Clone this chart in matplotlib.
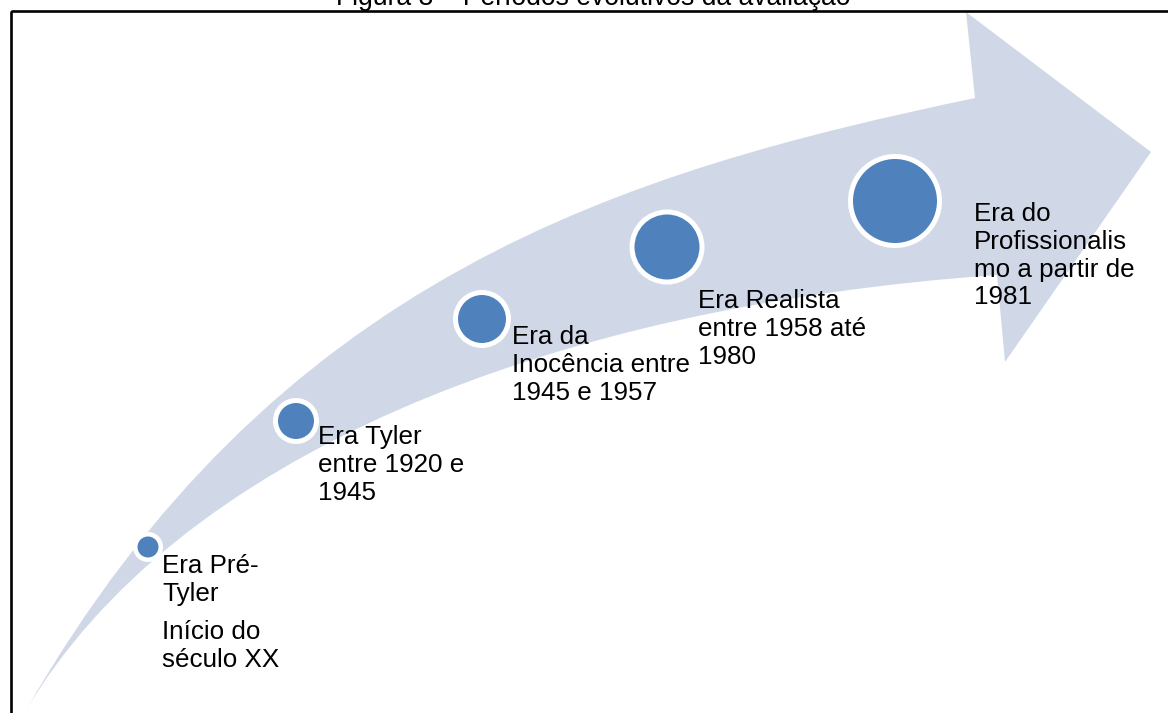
import matplotlib.pyplot as plt
from matplotlib.patches import Circle, PathPatch, Rectangle
from matplotlib.path import Path

titulo = "Figura 3 – Períodos evolutivos da avaliação"

eras = [
    "Era Pré-\nTyler",
    "Era Tyler\nentre 1920 e\n1945",
    "Era da\nInocência entre\n1945 e 1957",
    "Era Realista\nentre 1958 até\n1980",
    "Era do\nProfissionalis\nmo a partir de\n1981",
]
nota_inicio = "Início do\nséculo XX"

# layout em pixels (origem no canto superior esquerdo)
centros_x = [148, 296, 482, 667, 895]
centros_y = [547, 421, 319, 247, 201]
raios = [10.5, 18, 24, 32.5, 42]
texto_x = [162, 318, 512, 698, 974]
texto_y = [554, 425, 325, 289, 202]

COR_SETA = "#D0D8E8"
COR_CIRCULO = "#4F81BD"
FONTE = "Liberation Sans"
TAM = 18.7


def seta_curva():
    # borda superior, cabeca e borda inferior (curvas de Bezier)
    verts = [
        (25, 712),
        (275, 274.5), (625, 171.5), (975, 98),
        (966, 12),
        (1151, 152),
        (1005, 362),
        (997, 275),
        (547, 306.5), (175, 457), (25, 712),
        (25, 712),
    ]
    codes = [Path.MOVETO,
             Path.CURVE4, Path.CURVE4, Path.CURVE4,
             Path.LINETO, Path.LINETO, Path.LINETO, Path.LINETO,
             Path.CURVE4, Path.CURVE4, Path.CURVE4,
             Path.CLOSEPOLY]
    return PathPatch(Path(verts, codes), facecolor=COR_SETA, edgecolor="none", zorder=1)


def main():
    fig = plt.figure(figsize=(11.68, 7.13), dpi=100)
    ax = fig.add_axes([0, 0, 1, 1])
    ax.set_xlim(0, 1168)
    ax.set_ylim(713, 0)
    ax.axis("off")

    ax.add_patch(seta_curva())

    for cx, cy, r in zip(centros_x, centros_y, raios):
        anel = 5 if r > 15 else 4.5
        ax.add_patch(Circle((cx, cy), r + anel / 2, facecolor=COR_CIRCULO,
                            edgecolor="white", linewidth=anel * 0.72, zorder=2))

    for tx, ty, txt in zip(texto_x, texto_y, eras):
        ax.text(tx, ty, txt, family=FONTE, fontsize=TAM, ha="left", va="top",
                linespacing=1.2, zorder=3)

    ax.text(texto_x[0], 620, nota_inicio, family=FONTE, fontsize=TAM,
            ha="left", va="top", linespacing=1.2, zorder=3)

    # moldura (continua para fora da imagem)
    ax.add_patch(Rectangle((10.5, 11), 1300, 900, fill=False, edgecolor="black",
                           linewidth=1.9, zorder=4, clip_on=False))

    ax.text(593.5, 5, titulo, family=FONTE, fontsize=19.1, ha="center",
            va="baseline", zorder=5)

    fig.savefig("out.png", dpi=100)
    plt.close(fig)


if __name__ == "__main__":
    main()
